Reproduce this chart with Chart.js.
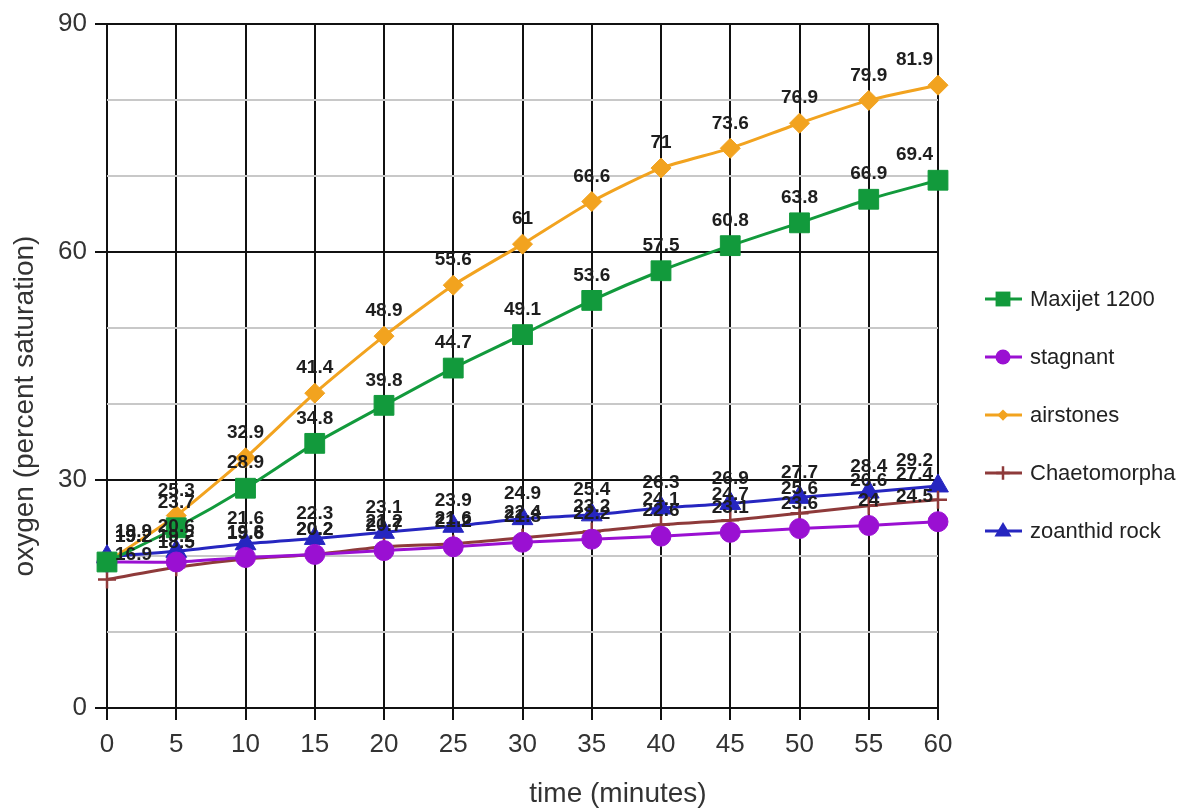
<!DOCTYPE html>
<html>
<head>
<meta charset="utf-8">
<script src="https://cdn.jsdelivr.net/npm/chart.js@4.4.0/dist/chart.umd.min.js"></script>
<style>
  html, body { margin: 0; padding: 0; background: #fff; }
  #wrap { width: 1184px; height: 809px; position: relative; }
</style>
</head>
<body>
<div id="wrap"><canvas id="oxygenChart"></canvas></div>
<script>
// readings every 5 minutes
const minutes = [0, 5, 10, 15, 20, 25, 30, 35, 40, 45, 50, 55, 60];
const maxijet = [19.2, 23.7, 28.9, 34.8, 39.8, 44.7, 49.1, 53.6, 57.5, 60.8, 63.8, 66.9, 69.4];
const stagnant = [19.2, 19.2, 19.8, 20.2, 20.7, 21.2, 21.8, 22.2, 22.6, 23.1, 23.6, 24, 24.5];
const airstones = [19.2, 25.3, 32.9, 41.4, 48.9, 55.6, 61, 66.6, 71, 73.6, 76.9, 79.9, 81.9];
const chaetomorpha = [16.9, 18.5, 19.6, 20.2, 21.2, 21.6, 22.4, 23.2, 24.1, 24.7, 25.6, 26.6, 27.4];
const zoanthid = [19.9, 20.6, 21.6, 22.3, 23.1, 23.9, 24.9, 25.4, 26.3, 26.9, 27.7, 28.4, 29.2];
const yTicks = [0, 30, 60, 90];

const FONT = '"Liberation Sans", Arial, sans-serif';

function series(label, values, color, style, radius) {
  return {
    label: label,
    data: minutes.map((m, i) => ({ x: m, y: values[i] })),
    borderColor: color,
    backgroundColor: color,
    borderWidth: 3,
    pointStyle: style,
    pointRadius: radius,
    pointHoverRadius: radius,
    pointBorderWidth: style === 'cross' ? 2.5 : 1,
    tension: 0.2,
    clip: false
  };
}

const datasets = [
  series('Maxijet 1200', maxijet, '#129a3c', 'rect', 14),
  series('stagnant', stagnant, '#9a10d2', 'circle', 10),
  series('airstones', airstones, '#f2a31f', 'rectRot', 10),
  series('Chaetomorpha', chaetomorpha, '#8e3a3a', 'cross', 9),
  series('zoanthid rock', zoanthid, '#2626c0', 'triangle', 12)
];

// value text above each point, kept inside the plot
const valueLabels = {
  id: 'valueLabels',
  afterDatasetsDraw(chart) {
    const ctx = chart.ctx, area = chart.chartArea;
    ctx.save();
    ctx.font = 'bold 19px ' + FONT;
    ctx.fillStyle = '#1e1e1e';
    ctx.textAlign = 'center';
    ctx.textBaseline = 'middle';
    chart.data.datasets.forEach((ds, i) => {
      chart.getDatasetMeta(i).data.forEach((pt, j) => {
        const txt = String(ds.data[j].y);
        const w = ctx.measureText(txt).width;
        let x = Math.max(pt.x, area.left + 8 + w / 2);
        x = Math.min(x, area.right - 5 - w / 2);
        ctx.fillText(txt, x, pt.y - 25);
      });
    });
    ctx.restore();
  }
};

function drawMarker(ctx, style, x, y, r) {
  ctx.beginPath();
  if (style === 'rect') {
    const s = r * Math.SQRT1_2;
    ctx.rect(x - s, y - s, 2 * s, 2 * s);
    ctx.fill();
  } else if (style === 'circle') {
    ctx.arc(x, y, r, 0, Math.PI * 2);
    ctx.fill();
  } else if (style === 'rectRot') {
    const s = r * 0.75;
    ctx.moveTo(x, y - s); ctx.lineTo(x + s, y); ctx.lineTo(x, y + s); ctx.lineTo(x - s, y);
    ctx.closePath();
    ctx.fill();
  } else if (style === 'cross') {
    ctx.lineWidth = 2.5;
    ctx.moveTo(x, y - r); ctx.lineTo(x, y + r);
    ctx.moveTo(x - r, y); ctx.lineTo(x + r, y);
    ctx.stroke();
  } else if (style === 'triangle') {
    ctx.moveTo(x, y - r); ctx.lineTo(x + r * 0.95, y + r * 0.6); ctx.lineTo(x - r * 0.95, y + r * 0.6);
    ctx.closePath();
    ctx.fill();
  }
}

// legend on the right plus the two axis titles
const sideText = {
  id: 'sideText',
  afterDraw(chart) {
    const ctx = chart.ctx;
    ctx.save();
    chart.data.datasets.forEach((ds, i) => {
      const y = 299 + i * 58;
      ctx.strokeStyle = ds.borderColor;
      ctx.fillStyle = ds.borderColor;
      ctx.lineWidth = 3;
      ctx.beginPath();
      ctx.moveTo(985, y); ctx.lineTo(1022, y);
      ctx.stroke();
      drawMarker(ctx, ds.pointStyle, 1003, y, ds.pointRadius * 0.75);
      ctx.fillStyle = '#222';
      ctx.font = '22px ' + FONT;
      ctx.textAlign = 'left';
      ctx.textBaseline = 'middle';
      ctx.fillText(ds.label, 1030, y + 1);
    });
    ctx.fillStyle = '#333';
    ctx.font = '28px ' + FONT;
    ctx.textAlign = 'center';
    ctx.textBaseline = 'middle';
    ctx.fillText('time (minutes)', 618, 794);
    ctx.translate(25, 406);
    ctx.rotate(-Math.PI / 2);
    ctx.fillText('oxygen (percent saturation)', 0, 0);
    ctx.restore();
  }
};

new Chart(document.getElementById('oxygenChart'), {
  type: 'line',
  data: { datasets: datasets },
  plugins: [valueLabels, sideText],
  options: {
    responsive: true,
    maintainAspectRatio: false,
    animation: false,
    layout: { padding: { top: 22, right: 246, bottom: 0, left: 0 } },
    plugins: { legend: { display: false }, tooltip: { enabled: false } },
    scales: {
      x: {
        type: 'linear',
        min: 0, max: 60,
        ticks: { stepSize: 5, color: '#333', font: { size: 26, family: FONT }, padding: 9 },
        grid: { color: '#111', lineWidth: 2, tickLength: 12, tickColor: '#111' },
        border: { display: false },
        afterFit(scale) { scale.height = 101; }
      },
      y: {
        min: 0, max: 90,
        afterBuildTicks(scale) {
          scale.ticks = [];
          for (let v = 0; v <= 90; v += 10) scale.ticks.push({ value: v });
        },
        ticks: {
          color: '#333',
          font: { size: 26, family: FONT },
          padding: 8,
          callback: v => yTicks.includes(v) ? String(v) : ''
        },
        grid: {
          color: c => yTicks.includes(c.tick.value) ? '#111' : '#c8c8c8',
          lineWidth: 2,
          tickLength: 12,
          tickColor: c => yTicks.includes(c.tick.value) ? '#111' : 'rgba(0,0,0,0)'
        },
        border: { display: false },
        afterFit(scale) { scale.width = 107; }
      }
    }
  }
});
</script>
</body>
</html>
